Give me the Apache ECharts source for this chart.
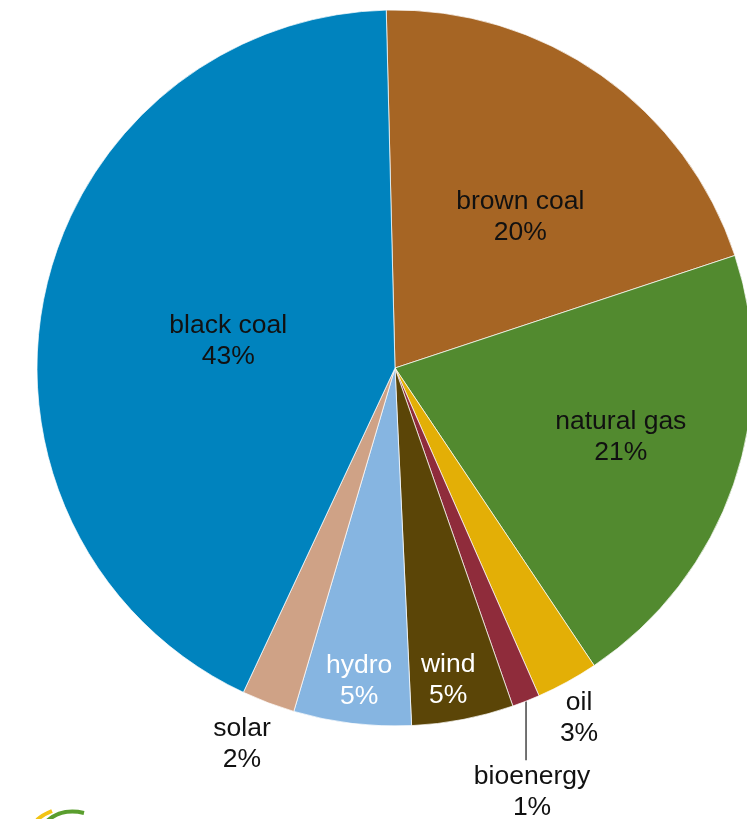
<!DOCTYPE html>
<html>
<head>
<meta charset="utf-8">
<script src="https://cdn.jsdelivr.net/npm/echarts@6/dist/echarts.min.js"></script>
<style>
html,body{margin:0;padding:0;background:#fff;}
#chart{width:747px;height:819px;}
</style>
</head>
<body>
<div id="chart"></div>
<script>
// ---- data ----
const categories = ['brown coal', 'natural gas', 'oil', 'bioenergy', 'wind', 'hydro', 'solar', 'black coal'];
const shares = [20.3, 20.7, 2.8, 1.25, 4.6, 5.3, 2.4, 42.65];

// ---- styling ----
const sliceColors = ['#A66524', '#528A2F', '#E3AF06', '#8F2C3B', '#5B4507', '#86B5E1', '#CFA286', '#0083BE'];
const labelColors = ['#111', '#111', '#111', '#111', '#fff', '#fff', '#111', '#111'];
// label placement: [fraction of radius, angle shift in degrees]
const labelPlace = [[0.552, -4.2], [0.658, 2.4], [1.10, -0.9], [1.0, 0], [0.878, -1.2], [0.875, 0.3], [1.129, -1.5], [0.473, 1.9]];
const CX = 395, CY = 368, R = 358, START = 91.4;

const total = shares.reduce((a, b) => a + b, 0);
function midAngle(i) {
  let cum = 0;
  for (let k = 0; k < i; k++) cum += shares[k];
  return START - 360 * (cum + shares[i] / 2) / total;
}

const chart = echarts.init(document.getElementById('chart'), null, {renderer: 'canvas'});
const option = {
  animation: false,
  backgroundColor: '#fff',
  series: [{
    type: 'pie',
    center: [CX, CY],
    radius: [0, R],
    startAngle: START,
    clockwise: true,
    avoidLabelOverlap: false,
    percentPrecision: 0,
    itemStyle: {borderColor: 'rgba(255,255,255,0.7)', borderWidth: 1},
    label: {
      show: true,
      position: 'inside',
      formatter: '{b}\n{d}%',
      fontFamily: 'Liberation Sans, Arial, sans-serif',
      fontSize: 26.5,
      lineHeight: 31
    },
    labelLine: {show: false},
    emphasis: {disabled: true},
    data: categories.map((name, i) => ({
      name: name,
      value: shares[i],
      itemStyle: {color: sliceColors[i]},
      label: {color: labelColors[i], position: name === 'bioenergy' ? 'outside' : 'inside'},
      labelLine: name === 'bioenergy' ? {show: true, lineStyle: {color: '#444', width: 1.5}} : {show: false}
    })),
    labelLayout: function (params) {
      const i = params.dataIndex;
      const a = (midAngle(i) + labelPlace[i][1]) * Math.PI / 180;
      if (categories[i] === 'bioenergy') {
        const ex = CX + R * Math.cos(a);
        const ey = CY - R * Math.sin(a);
        return {
          x: ex + 6, y: ey + 91, align: 'center', verticalAlign: 'middle',
          labelLinePoints: [[ex, ey], [ex, ey + 59], [ex, ey + 59]]
        };
      }
      const f = labelPlace[i][0];
      return {
        x: CX + f * R * Math.cos(a),
        y: CY - f * R * Math.sin(a) + 2,
        align: 'center',
        verticalAlign: 'middle'
      };
    }
  }],
  graphic: [
    {type: 'bezierCurve', shape: {x1: 37, y1: 820, x2: 52, y2: 811, cpx1: 42, cpy1: 815},
     style: {stroke: '#F2C414', lineWidth: 4, fill: null}},
    {type: 'bezierCurve', shape: {x1: 47, y1: 821, x2: 84, y2: 813, cpx1: 62, cpy1: 808},
     style: {stroke: '#5A9E2E', lineWidth: 4, fill: null}}
  ]
};
chart.setOption(option);
</script>
</body>
</html>
